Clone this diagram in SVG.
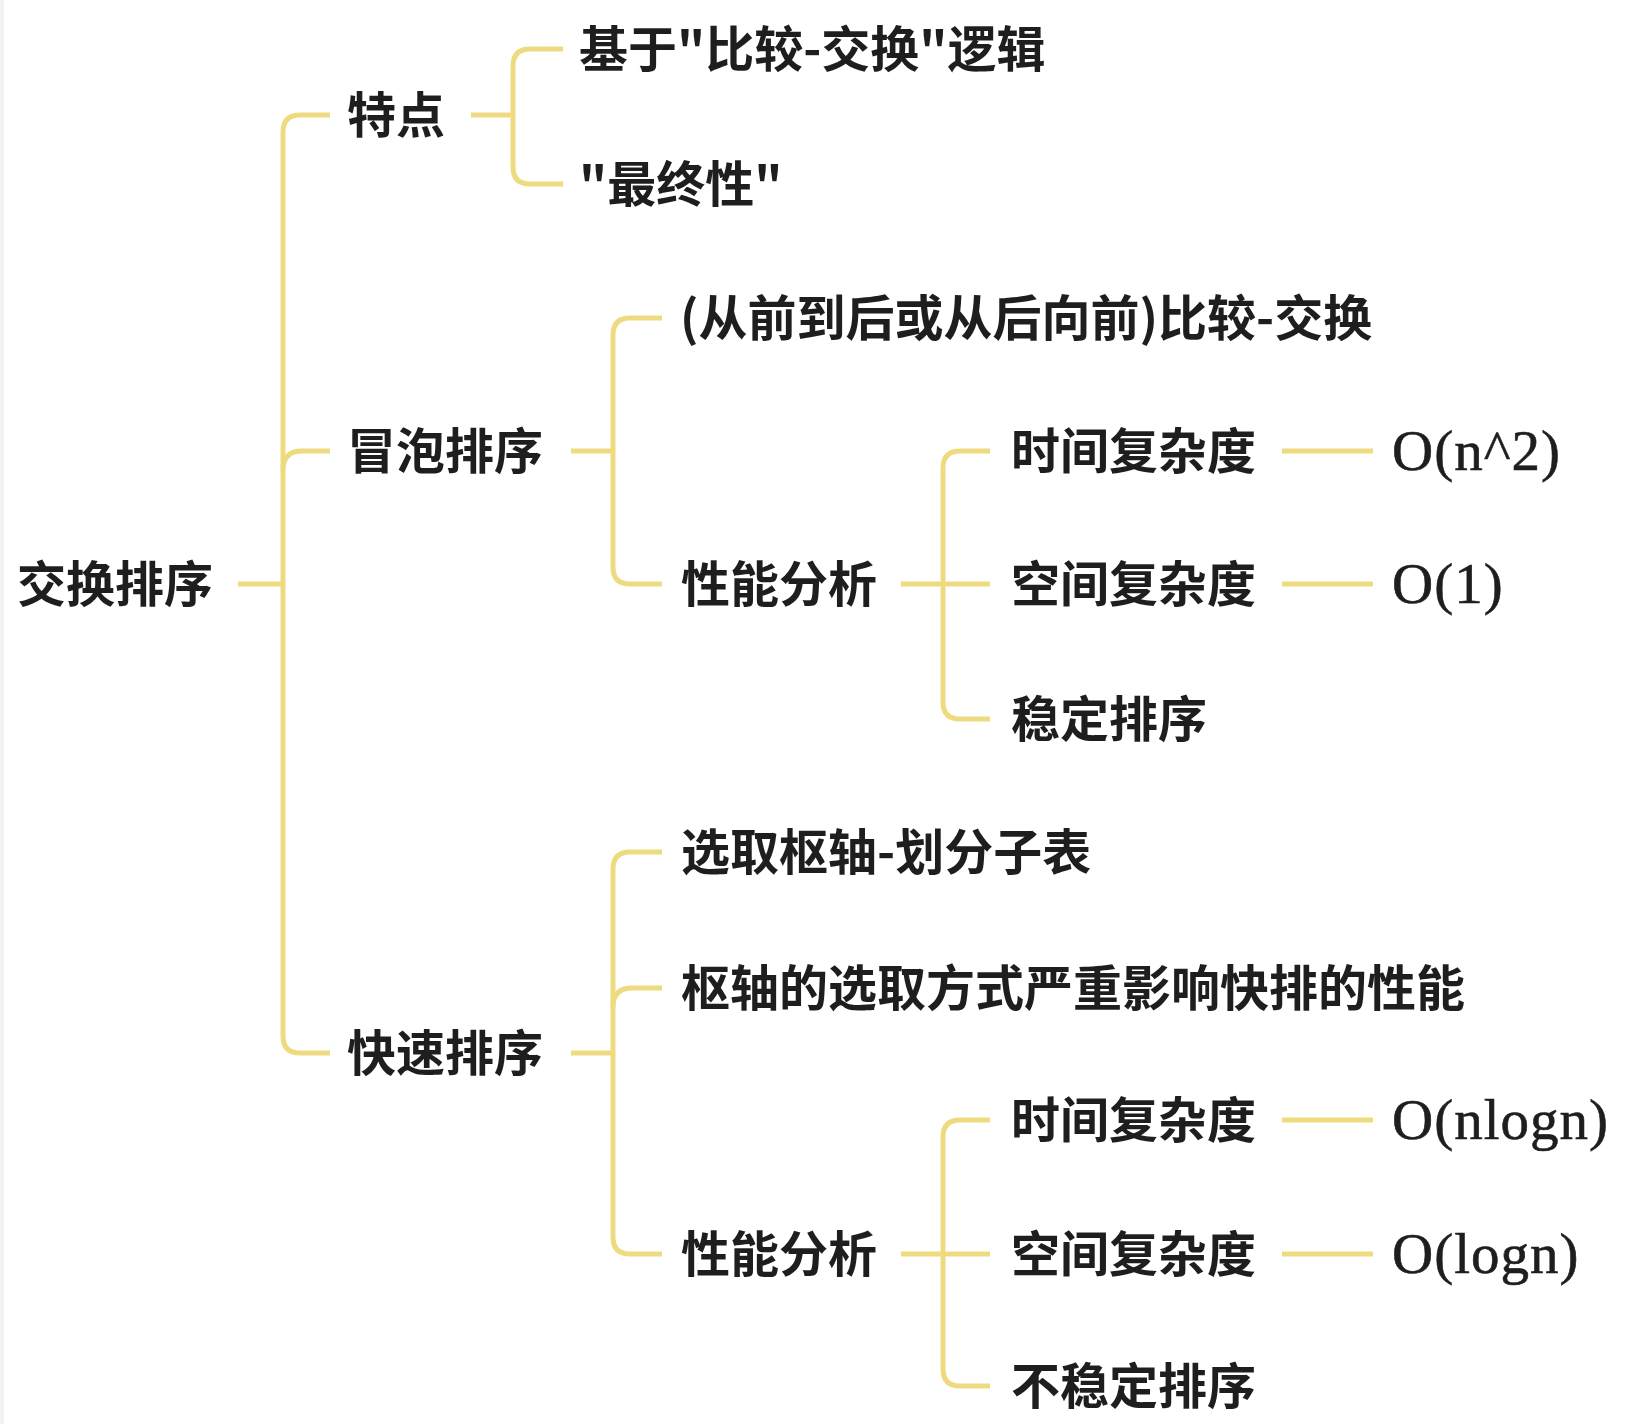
<svg xmlns="http://www.w3.org/2000/svg" width="1634" height="1424" viewBox="0 0 1634 1424">
  <style>
    .cn { font-family: "Noto Sans CJK SC", "Noto Sans", sans-serif; font-weight: 700; font-size: 49px; fill: #1e1e1e; }
    .val { font-family: "Liberation Serif", "DejaVu Serif", serif; font-size: 57px; letter-spacing: 1px; fill: #1e1e1e; stroke: #1e1e1e; stroke-width: 0.6; }
    .link { fill: none; stroke: #EFDB7F; stroke-width: 5; stroke-linecap: butt; stroke-linejoin: round; }
  </style>
  <rect x="0" y="0" width="1634" height="1424" fill="#ffffff"/>
  <rect x="0" y="0" width="4" height="1424" fill="#f2f2f2"/>

  <!-- connectors -->
  <g id="connectors">
    <!-- root to level 1 -->
    <path class="link" d="M238,584 H283"/>
    <path class="link" d="M330,115 H300 Q283,115 283,132 V1036 Q283,1053 300,1053 H330"/>
    <path class="link" d="M283,470 Q283,451 302,451 H330"/>
    <!-- 特点 -->
    <path class="link" d="M471,115 H513"/>
    <path class="link" d="M563,49 H530 Q513,49 513,66 V167 Q513,184 530,184 H563"/>
    <!-- 冒泡排序 -->
    <path class="link" d="M571,451 H613"/>
    <path class="link" d="M662,318 H630 Q613,318 613,335 V567 Q613,584 630,584 H662"/>
    <!-- 冒泡排序 / 性能分析 -->
    <path class="link" d="M901,584 H990"/>
    <path class="link" d="M990,451 H960 Q943,451 943,468 V702 Q943,719 960,719 H990"/>
    <path class="link" d="M1282,451 H1373"/>
    <path class="link" d="M1282,584 H1373"/>
    <!-- 快速排序 -->
    <path class="link" d="M571,1053 H613"/>
    <path class="link" d="M662,852 H630 Q613,852 613,869 V1237 Q613,1254 630,1254 H662"/>
    <path class="link" d="M613,1007 Q613,988 632,988 H662"/>
    <!-- 快速排序 / 性能分析 -->
    <path class="link" d="M901,1254 H990"/>
    <path class="link" d="M990,1120 H960 Q943,1120 943,1137 V1369 Q943,1386 960,1386 H990"/>
    <path class="link" d="M1282,1120 H1373"/>
    <path class="link" d="M1282,1254 H1373"/>
  </g>

  <!-- nodes -->
  <g id="root"><text class="cn" x="17" y="602">交换排序</text></g>

  <g id="n-feature"><text class="cn" x="347" y="133">特点</text></g>
  <g id="n-feature-1"><text class="cn" x="579" y="67">基于"比较-交换"逻辑</text></g>
  <g id="n-feature-2"><text class="cn" x="579" y="202">"最终性"</text></g>

  <g id="n-bubble"><text class="cn" x="347" y="469">冒泡排序</text></g>
  <g id="n-bubble-1"><text class="cn" x="680" y="336">(从前到后或从后向前)比较-交换</text></g>
  <g id="n-bubble-perf"><text class="cn" x="681" y="602">性能分析</text></g>
  <g id="n-bubble-time"><text class="cn" x="1011" y="469">时间复杂度</text></g>
  <g id="n-bubble-time-v"><text class="val" x="1392" y="470">O(n^2)</text></g>
  <g id="n-bubble-space"><text class="cn" x="1011" y="602">空间复杂度</text></g>
  <g id="n-bubble-space-v"><text class="val" x="1392" y="603">O(1)</text></g>
  <g id="n-bubble-stable"><text class="cn" x="1011" y="737">稳定排序</text></g>

  <g id="n-quick"><text class="cn" x="347" y="1071">快速排序</text></g>
  <g id="n-quick-1"><text class="cn" x="681" y="870">选取枢轴-划分子表</text></g>
  <g id="n-quick-2"><text class="cn" x="681" y="1006">枢轴的选取方式严重影响快排的性能</text></g>
  <g id="n-quick-perf"><text class="cn" x="681" y="1272">性能分析</text></g>
  <g id="n-quick-time"><text class="cn" x="1011" y="1138">时间复杂度</text></g>
  <g id="n-quick-time-v"><text class="val" x="1392" y="1139">O(nlogn)</text></g>
  <g id="n-quick-space"><text class="cn" x="1011" y="1272">空间复杂度</text></g>
  <g id="n-quick-space-v"><text class="val" x="1392" y="1273">O(logn)</text></g>
  <g id="n-quick-stable"><text class="cn" x="1011" y="1404">不稳定排序</text></g>
</svg>
